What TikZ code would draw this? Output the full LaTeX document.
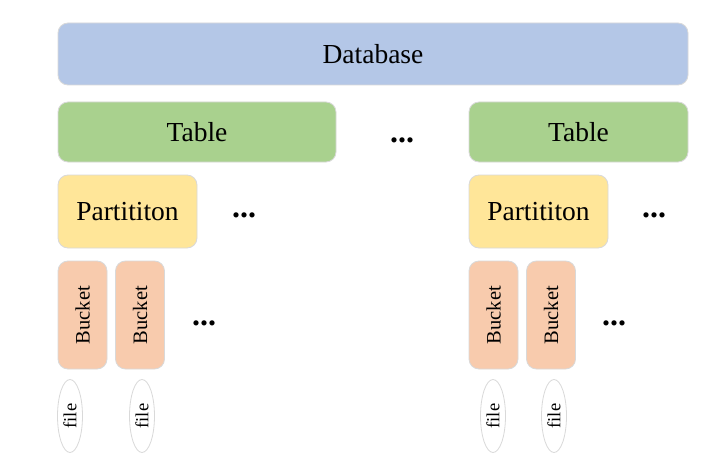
\documentclass[tikz,border=0pt]{standalone}
\usepackage{fontspec}
\setmainfont{Liberation Serif}
\usetikzlibrary{shapes.geometric}
\begin{document}
\begin{tikzpicture}[x=1pt,y=-1pt,
  box/.style={draw=black!15, line width=0.8pt, rounded corners=10pt, inner sep=0pt, font=\fontsize{27.5}{32}\selectfont},
  dbbox/.style={box, fill={rgb,255:red,180;green,199;blue,231}},
  tblbox/.style={box, fill={rgb,255:red,169;green,209;blue,142}},
  partbox/.style={box, fill={rgb,255:red,255;green,230;blue,153}},
  bktbox/.style={box, fill={rgb,255:red,248;green,203;blue,173}, minimum width=49pt, minimum height=108pt, font=\fontsize{20.5}{24}\selectfont},
  filebox/.style={draw=black!15, line width=0.8pt, ellipse, fill=white, inner sep=0pt, minimum width=25pt, minimum height=73pt, font=\fontsize{18.5}{22}\selectfont},
  dots/.style={font=\fontsize{32}{36}\selectfont\bfseries, inner sep=0pt}]
\useasboundingbox (0,0) rectangle (728,468);
\fill[white] (0,0) rectangle (728,468);
\node[dbbox, minimum width=630pt, minimum height=62pt] (db) at (373,54) {Database};
\node[tblbox, minimum width=278pt, minimum height=60pt] (tl) at (197,132) {Table};
\node[tblbox, minimum width=219pt, minimum height=60pt] (tr) at (578.5,132) {Table};
\node[dots] (d1) at (402,140) {...};
\node[partbox, minimum width=139pt, minimum height=73pt] (pl) at (127.5,211.5) {Partititon};
\node[partbox, minimum width=139pt, minimum height=73pt] (pr) at (538.5,211.5) {Partititon};
\node[dots] (d2) at (244,215) {...};
\node[dots] (d3) at (654,215) {...};
\node[bktbox] (b1) at (82.5,315) {\rotatebox{90}{Bucket}};
\node[bktbox] (b2) at (140,315) {\rotatebox{90}{Bucket}};
\node[bktbox] (b3) at (493.5,315) {\rotatebox{90}{Bucket}};
\node[bktbox] (b4) at (551,315) {\rotatebox{90}{Bucket}};
\node[dots] (d4) at (204,323) {...};
\node[dots] (d5) at (614,323) {...};
\node[filebox] (f1) at (70,416) {\rotatebox{90}{file}};
\node[filebox] (f2) at (142,416) {\rotatebox{90}{file}};
\node[filebox] (f3) at (493,416) {\rotatebox{90}{file}};
\node[filebox] (f4) at (554,416) {\rotatebox{90}{file}};
\end{tikzpicture}
\end{document}
